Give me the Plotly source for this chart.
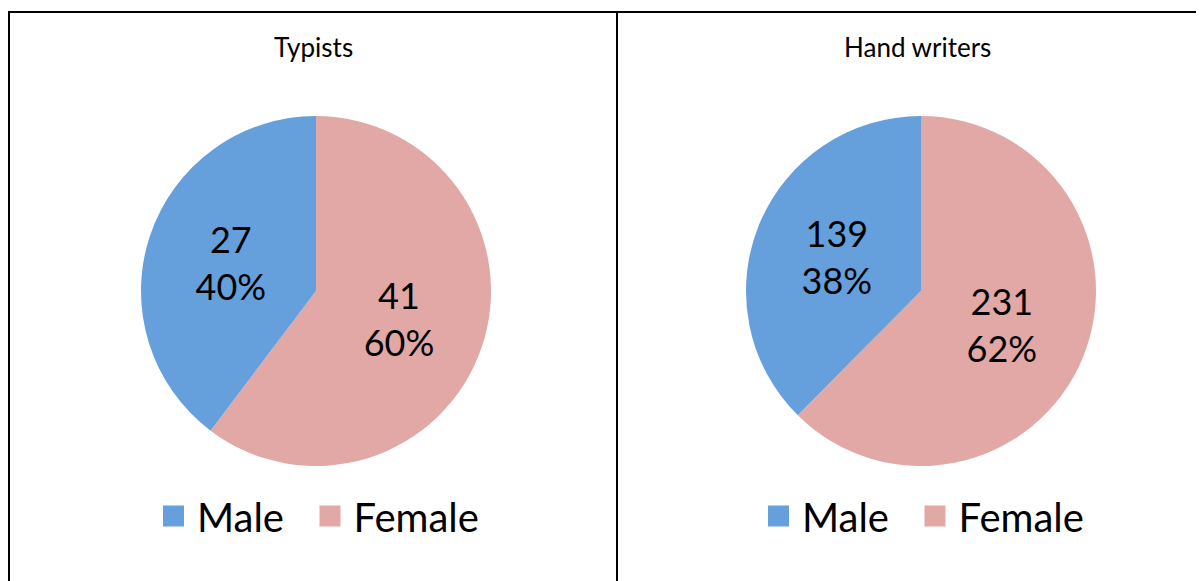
import plotly.graph_objects as go

# Page body has an 8px margin; the figure is placed at (8, 8) in the window.
OFF = 8
W, H = 1204 - OFF, 581 - OFF

categories = ["Male", "Female"]
typists_values = [27, 41]
handwriters_values = [139, 231]
panel_titles = ["Typists", "Hand writers"]
colors = ["#65A0DC", "#E2A8A6"]

FONT = "Lato"

def px_x(x):
    return (x - OFF) / W

def px_y(y):
    return 1 - (y - OFF) / H

fig = go.Figure()

R = 175
CY = 291
ITEMW = 37
pies = [
    dict(values=typists_values, cx=316, legends=["legend", "legend2"],
         sym_x=[173.5, 330]),
    dict(values=handwriters_values, cx=921, legends=["legend3", "legend4"],
         sym_x=[778.5, 935]),
]
legend_layout = {}
for p in pies:
    # slices drawn Female first (clockwise from 12 o'clock) so Male sits on the left
    fig.add_trace(go.Pie(
        labels=categories[::-1],
        values=p["values"][::-1],
        sort=False,
        direction="clockwise",
        rotation=0,
        marker=dict(colors=colors[::-1], line=dict(width=0)),
        texttemplate="%{value}<br>%{percent:.0%}",
        textposition="inside",
        insidetextorientation="horizontal",
        textfont=dict(family=FONT, size=36, color="black"),
        domain=dict(x=[px_x(p["cx"] - R), px_x(p["cx"] + R)],
                    y=[px_y(CY + R), px_y(CY - R)]),
        showlegend=False,
        hoverinfo="label+value+percent",
    ))
    # legend entries for this panel
    for cat, col, lg, sx in zip(categories, colors, p["legends"], p["sym_x"]):
        fig.add_trace(go.Scatter(
            x=[None], y=[None], mode="markers", name=cat,
            marker=dict(symbol="square", size=16, color=col,
                        line=dict(width=7, color=col)),
            legend=lg, showlegend=True, hoverinfo="skip",
        ))
        legend_layout[lg] = dict(
            orientation="h",
            xanchor="left",
            yanchor="middle",
            x=px_x(sx - (ITEMW / 2 + 5)),
            y=px_y(516),
            font=dict(family=FONT, size=40, color="black"),
            bgcolor="rgba(0,0,0,0)",
            itemsizing="trace",
            itemwidth=ITEMW,
        )

fig.update_layout(
    width=W, height=H,
    margin=dict(l=0, r=0, t=0, b=0),
    paper_bgcolor="white",
    plot_bgcolor="white",
    showlegend=True,
    font=dict(family=FONT, color="black"),
    xaxis=dict(visible=False),
    yaxis=dict(visible=False),
    **legend_layout,
)

# Panel titles
for title, cx in zip(panel_titles, [313, 917]):
    fig.add_annotation(
        text=title, x=px_x(cx), y=px_y(47), xref="paper", yref="paper",
        showarrow=False, xanchor="center", yanchor="middle",
        font=dict(family=FONT, size=26, color="black"),
    )

# Panel borders (table grid lines)
line = dict(color="black", width=2)
fig.add_shape(type="line", xref="paper", yref="paper",
              x0=px_x(8), x1=1, y0=px_y(12), y1=px_y(12), line=line)
fig.add_shape(type="line", xref="paper", yref="paper",
              x0=px_x(9), x1=px_x(9), y0=px_y(12), y1=0, line=line)
fig.add_shape(type="line", xref="paper", yref="paper",
              x0=px_x(617), x1=px_x(617), y0=px_y(12), y1=0, line=line)

fig.write_html("out.html")
